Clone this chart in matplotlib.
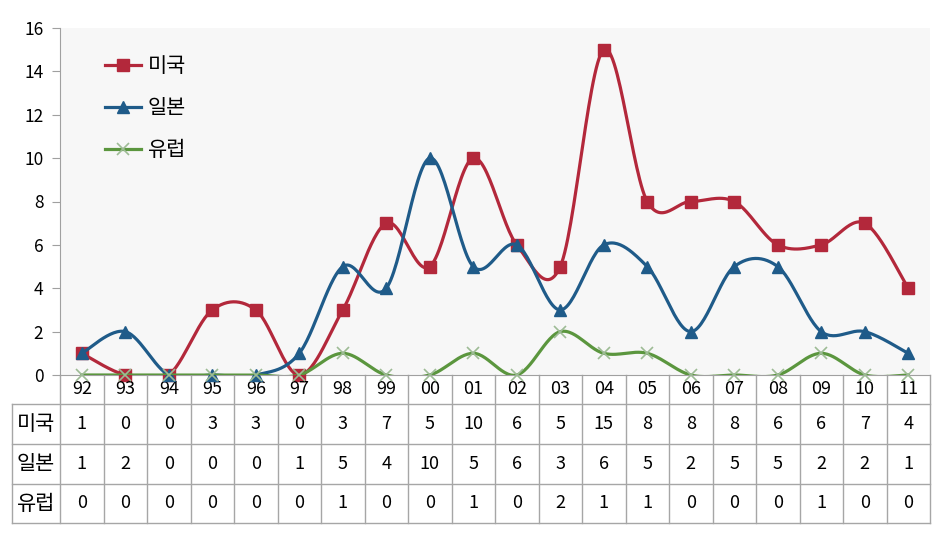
import matplotlib
matplotlib.use('Agg')
import matplotlib.pyplot as plt
import matplotlib.transforms as mtransforms
from matplotlib.lines import Line2D
import numpy as np

plt.rcParams['font.family'] = ['Noto Sans CJK KR', 'DejaVu Sans']

years = ['92', '93', '94', '95', '96', '97', '98', '99', '00', '01',
         '02', '03', '04', '05', '06', '07', '08', '09', '10', '11']
usa = [1, 0, 0, 3, 3, 0, 3, 7, 5, 10, 6, 5, 15, 8, 8, 8, 6, 6, 7, 4]
japan = [1, 2, 0, 0, 0, 1, 5, 4, 10, 5, 6, 3, 6, 5, 2, 5, 5, 2, 2, 1]
europe = [0, 0, 0, 0, 0, 0, 1, 0, 0, 1, 0, 2, 1, 1, 0, 0, 0, 1, 0, 0]
names = ['미국', '일본', '유럽']

colors = ['#B3283B', '#1F5B89', '#5B963E']
markers = ['s', '^', 'x']
xcol = '#9DBB95'


def smooth(y, n=30):
    # Excel style bezier smoothing through the points
    x = np.arange(len(y), dtype=float)
    p = np.column_stack([x, np.asarray(y, dtype=float)])
    pe = np.vstack([p[0], p, p[-1]])
    out = []
    t = np.linspace(0, 1, n)[:, None]
    for i in range(len(p) - 1):
        p0, p1, p2, p3 = pe[i], pe[i + 1], pe[i + 2], pe[i + 3]
        c1 = p1 + (p2 - p0) / 6
        c2 = p2 - (p3 - p1) / 6
        seg = ((1 - t) ** 3) * p1 + 3 * ((1 - t) ** 2) * t * c1 + 3 * (1 - t) * t ** 2 * c2 + t ** 3 * p2
        out.append(seg)
    out = np.vstack(out)
    return out[:, 0], out[:, 1]


W, H = 938, 539
fig = plt.figure(figsize=(W / 100, H / 100), dpi=100)
ax_l, ax_r, ax_t, ax_b = 60, 930, 28, 375
ax = fig.add_axes([ax_l / W, 1 - ax_b / H, (ax_r - ax_l) / W, (ax_b - ax_t) / H])
ax.set_facecolor('#F7F7F7')

xs = np.arange(len(years))
for k, (vals, c, m) in enumerate(zip([usa, japan, europe], colors, markers)):
    z = 3 + k
    sx, sy = smooth(vals)
    ax.plot(sx, sy, color=c, lw=2.3, zorder=z)
    if m == 'x':
        ax.plot(xs, vals, ls='none', marker='x', ms=9, mew=1.2, color=xcol, clip_on=False, zorder=z)
    else:
        ax.plot(xs, vals, ls='none', marker=m, ms=9, color=c, clip_on=False, zorder=z)

handles = [Line2D([], [], color=colors[0], lw=2.3, marker='s', ms=9),
           Line2D([], [], color=colors[1], lw=2.3, marker='^', ms=9),
           Line2D([], [], color=colors[2], lw=2.3, marker='x', ms=9, mec=xcol, mew=1.2)]
ax.legend(handles, names, loc='upper left', bbox_to_anchor=(0.03, 0.975), frameon=False,
          fontsize=15, handlelength=1.75, handletextpad=0.3, labelspacing=0.95)

ax.set_xlim(-0.5, len(years) - 0.5)
ax.set_ylim(0, 16)
ax.set_yticks(range(0, 17, 2))
ax.set_xticks([])
ax.tick_params(axis='y', labelsize=12.5, length=6, color='#A0A0A0', pad=6)
for s in ['top', 'right']:
    ax.spines[s].set_visible(False)
ax.spines['left'].set_color('#A0A0A0')
ax.spines['bottom'].set_color('#A0A0A0')

# data table below the plot
tr = mtransforms.blended_transform_factory(ax.transData, fig.transFigure)
gc = '#A6A6A6'


def fy(py):
    return 1 - py / H


rows = [375, 404, 444, 484, 523]
left_px = 12
x_left = -0.5 - (ax_l - left_px) / ((ax_r - ax_l) / len(years))
x_end = len(years) - 0.5
for r in rows[1:]:
    ax.plot([x_left, x_end], [fy(r)] * 2, color=gc, lw=1, transform=tr, clip_on=False)
for i in range(len(years) + 1):
    ax.plot([i - 0.5] * 2, [fy(rows[0]), fy(rows[-1])], color=gc, lw=1, transform=tr, clip_on=False)
ax.plot([x_left] * 2, [fy(rows[1]), fy(rows[-1])], color=gc, lw=1, transform=tr, clip_on=False)

for i, yr in enumerate(years):
    ax.text(i, fy((rows[0] + rows[1]) / 2), yr, ha='center', va='center', fontsize=13,
            transform=tr, clip_on=False)
x_name = (x_left - 0.5) / 2
for k, (vals, name) in enumerate(zip([usa, japan, europe], names)):
    yc = fy((rows[k + 1] + rows[k + 2]) / 2)
    ax.text(x_name, yc, name, ha='center', va='center', fontsize=15, transform=tr, clip_on=False)
    for i, v in enumerate(vals):
        ax.text(i, yc, str(v), ha='center', va='center', fontsize=13, transform=tr, clip_on=False)

fig.savefig('out.png', dpi=100)
